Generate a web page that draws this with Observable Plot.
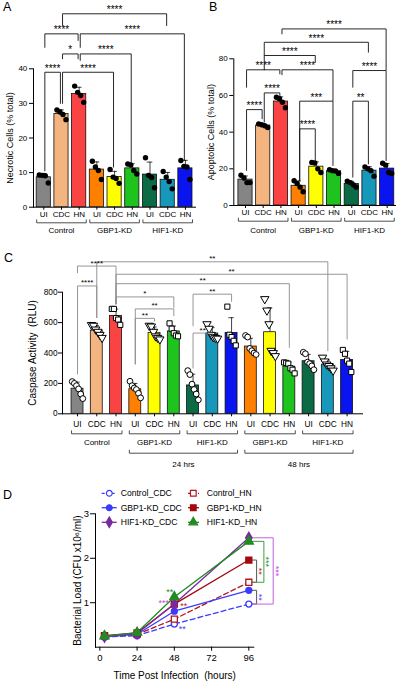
<!DOCTYPE html>
<html><head><meta charset="utf-8">
<script src="https://cdn.jsdelivr.net/npm/d3@7"></script>
<script src="https://cdn.jsdelivr.net/npm/@observablehq/plot@0.6"></script>
<style>
body{margin:0;background:#fff;font-family:"Liberation Sans",Arial,sans-serif;}
#fig{position:relative;width:400px;height:683px;overflow:hidden;background:#fff;}
.pane{position:absolute;}
.letter{position:absolute;font-size:12.5px;line-height:1;color:#000;}
</style></head><body><div id="fig">
<div class="letter" style="left:3px;top:1px">A</div>
<div class="letter" style="left:209px;top:1px">B</div>
<div class="letter" style="left:4px;top:252px">C</div>
<div class="letter" style="left:3px;top:489px">D</div>
</div>
<script>
const FONT = "'Liberation Sans', Arial, Helvetica, sans-serif";

// ---------- shared categories ----------
const treatments = ["UI", "CDC", "HN"];
const cellGroups = ["Control", "GBP1-KD", "HIF1-KD"];
const cellColors = ["#858585", "#f3b47f", "#fa4343", "#ff8000", "#ffff00", "#1ec31e", "#0b6b45", "#1797b9", "#0a14ee"];

// ---------- Panel A: necrotic cells (% total) ----------
const necroticPoints = [
  [9.3, 9.2, 9.1, 7.0],
  [28.1, 27.5, 26.8, 25.3],
  [35.0, 33.2, 32.3, 30.3],
  [13.3, 11.6, 10.6, 8.0],
  [10.9, 8.7, 8.3, 6.9],
  [12.5, 12.2, 10.6, 9.6],
  [14.3, 9.2, 8.6, 5.6],
  [10.3, 8.7, 7.4, 5.3],
  [13.5, 11.8, 11.6, 8.0]
];
const necTicks = [0, 10, 20, 30, 40];
const necFrom  = [1, 0, 2, 1, 2, 0, 1];
const necTo    = [7, 2, 8, 2, 5, 1, 4];
const necLevel = [55.9, 50.1, 50.1, 44.3, 44.3, 39, 39];
const necDropL = [52.5, 46.2, 46.2, 42.9, 42.4, 10.5, 30];
const necDropR = [52.5, 48.2, 13.5, 42.9, 12.5, 30, 11.6];
const necStars = ["****", "****", "****", "*", "****", "****", "****"];

// ---------- Panel B: apoptotic cells (% total) ----------
const apoptoticPoints = [
  [16.5, 15.0, 12.5, 12.5],
  [44.5, 44.0, 43.5, 42.5],
  [59.0, 58.2, 56.3, 53.3],
  [13.5, 12.0, 10.0, 7.5],
  [23.5, 23.2, 20.0, 18.0],
  [19.5, 19.0, 18.8, 17.5],
  [13.3, 12.5, 11.3, 10.0],
  [21.0, 20.0, 19.0, 16.0],
  [23.0, 22.0, 18.0, 17.5]
];
const apoTicks = [0, 20, 40, 60, 80];
const apoFrom  = [2, 1, 1, 0, 2, 1, 0, 3, 3, 6, 6];
const apoTo    = [8, 7, 4, 2, 5, 2, 1, 5, 4, 7, 8];
const apoLevel = [96.3, 89, 81.8, 74, 74, 61.4, 52.3, 56.9, 41.8, 56.9, 73.6];
const apoDropL = [93.6, 81.8, 74, 64.5, 71.3, 45.4, 19.1, 13.6, 13.6, 15.5, 64.5];
const apoDropR = [74, 83.6, 78, 71.8, 57.2, 59.1, 47.3, 21.8, 24.5, 22.7, 24.5];
const apoStars = ["****", "****", "****", "****", "****", "****", "****", "***", "****", "**", "****"];

// ---------- Panel C: caspase activity (RLU) ----------
const caspGroups = ["Control", "GBP1-KD", "HIF1-KD", "GBP1-KD", "HIF1-KD"];
const caspTimes = ["24 hrs", "48 hrs"];
const caspColors = ["#858585", "#f3b47f", "#fa4343", "#ff8000", "#ffff00", "#1ec31e", "#0b6b45", "#1797b9", "#0a14ee",
                    "#ff8000", "#ffff00", "#1ec31e", "#0b6b45", "#1797b9", "#0a14ee"];
const caspPoints = [
  [212, 200, 185, 164, 130, 100],
  [585, 580, 555, 540, 520, 500],
  [690, 690, 630, 620, 585],
  [214, 185, 170, 160, 135, 105],
  [580, 575, 540, 510, 500, 490],
  [595, 560, 530, 515, 510],
  [284, 258, 195, 160, 130, 92],
  [590, 560, 520, 505, 500, 495],
  [705, 520, 505, 480, 450],
  [515, 505, 430, 415, 400, 390],
  [755, 680, 590, 415, 400, 380],
  [338, 335, 330, 300, 290, 266],
  [405, 395, 340, 330, 315, 290],
  [370, 345, 325, 315, 300, 285],
  [420, 395, 350, 330, 275]
];
const caspTicks = [0, 200, 400, 600, 800];
const caspSymbols = ["circle", "triangle", "square"];
const caspFrom  = [1, 0, 2, 2, 0, 2, 3, 3, 6, 6];
const caspTo    = [13, 2, 14, 11, 1, 5, 5, 4, 8, 7];
const caspLevel = [1000, 972, 918, 856, 841, 769, 690, 628, 787, 531];
const caspDropL = [633, 928, 723, 723, 262, 723, 328, 328, 579, 300];
const caspDropR = [415, 723, 492, 437, 633, 700, 645, 610, 740, 520];
const caspStars = ["**", "****", "**", "**", "****", "*", "**", "**", "**", "**"];

// ---------- Panel D: bacterial load ----------
const dTimes = [3, 24, 48, 96];
const dTicks = [0, 24, 48, 72, 96];
const dYTicks = [1, 2, 3];
const dSeries = ["Control_CDC", "Control_HN", "GBP1-KD_CDC", "GBP1-KD_HN", "HIF1-KD_CDC", "HIF1-KD_HN"];
const dValues = [
  [0.23, 0.26, 0.52, 0.97],
  [0.25, 0.29, 0.63, 1.46],
  [0.23, 0.29, 0.81, 1.28],
  [0.26, 0.32, 0.97, 1.96],
  [0.24, 0.31, 0.97, 2.46],
  [0.25, 0.33, 1.13, 2.38]
];
const dColors = ["#3c3cff", "#b3161b", "#3c3cff", "#a3090f", "#7a2aa0", "#228b22"];
const dSymbols = ["circle", "square", "circle", "square", "diamond", "triangle"];
const dFilled = [false, false, true, true, true, true];
const dDashed = [true, true, false, false, false, false];
// comparisons at 96 h
const dCmpUpper = ["GBP1-KD_CDC", "GBP1-KD_HN", "HIF1-KD_HN", "HIF1-KD_CDC"];
const dCmpLower = ["Control_CDC", "Control_HN", "Control_HN", "Control_CDC"];
const dCmpX = [101, 101, 105.7, 111.7];
const dCmpLine = ["#555555", "#555555", "#3d9f3d", "#c65fe0"];
const dCmpStars = ["**", "**", "***", "***"];
const dCmpStarColor = ["#3c3cff", "#c02020", "#1f8a1f", "#c040e0"];
// annotations near 48 h
const dNoteT = [45.1, 41.2, 54.1, 53.1];
const dNoteV = [1.28, 1.04, 0.96, 0.45];
const dNoteText = ["**", "***", "**", "**"];
const dNoteColor = ["#1f8a1f", "#c040e0", "#c02020", "#3c3cff"];

// ---------- helpers ----------
function bracketPath(from, to, level, dropL, dropR, nudge) {
  return from.flatMap((f, j) => {
    const a = f + nudge, b = to[j] - nudge;
    return [{x: a, y: dropL[j], j}, {x: a, y: level[j], j}, {x: b, y: level[j], j}, {x: b, y: dropR[j], j}];
  });
}

function barPanel(cfg) {
  const u = (cfg.yDomain[1] - cfg.yDomain[0]) / (cfg.H - cfg.mt - cfg.mb);
  const bars = cfg.points.map((p, i) => ({i, mean: d3.mean(p), sd: d3.deviation(p), fill: cfg.colors[i]}));
  const dots = cfg.points.flatMap((p, i) => p.map((v, k) => ({x: i + (k - (p.length - 1) / 2) * cfg.jitter, y: v, t: i % 3})));
  const c = cfg.cmp;
  const brk = bracketPath(c.from, c.to, c.level, c.dropL, c.dropR, cfg.nudge);
  const brkLab = c.from.map((f, j) => ({x: (f + c.to[j]) / 2, y: c.level[j], s: c.stars[j]}));
  const hw = cfg.barW / 2;
  const tierLines = [], tierText = [];
  cfg.tiers.forEach((tier, ti) => {
    tier.ranges.forEach(([s, e], g) => {
      const a = s - hw, b = e + hw;
      const y0 = -tier.line * u, y1 = -(tier.line - 3) * u;
      const id = ti * 100 + g;
      tierLines.push({x: a, y: y1, id}, {x: a, y: y0, id}, {x: b, y: y0, id}, {x: b, y: y1, id});
      tierText.push({x: (s + e) / 2, y: -tier.text * u, label: tier.labels[g]});
    });
  });
  const dotMarks = cfg.open
    ? [0, 1, 2].map(t => Plot.dot(dots.filter(d => d.t === t), {
        x: "x", y: "y", symbol: cfg.symbols[t], rotate: t === 1 ? 180 : 0,
        r: t === 1 ? 3.1 : 2.9, fill: "#fff", stroke: "#000", strokeWidth: 1}))
    : [Plot.dot(dots, {x: "x", y: "y", r: 2.7, fill: "#000"})];
  return Plot.plot({
    width: cfg.W, height: cfg.H,
    marginTop: cfg.mt, marginBottom: cfg.mb, marginLeft: cfg.ml, marginRight: cfg.mr,
    style: {fontFamily: FONT, fontSize: cfg.tickFont + "px", color: "#000", background: "transparent"},
    x: {domain: cfg.xDomain, ticks: d3.range(cfg.points.length), tickFormat: i => treatments[i % 3],
        tickSize: 3, tickPadding: cfg.xPad, line: true, label: null},
    y: {domain: cfg.yDomain, ticks: cfg.yTicks, tickFormat: d3.format("d"), tickSize: 4, tickPadding: cfg.yPad, line: true, label: null},
    color: {type: "identity"},
    marks: [
      Plot.rect(bars, {x1: d => d.i - hw, x2: d => d.i + hw, y1: 0, y2: "mean", fill: "fill", stroke: "#111", strokeWidth: 0.8}),
      Plot.ruleX(bars, {x: "i", y1: "mean", y2: d => d.mean + d.sd, stroke: "#111", strokeWidth: 0.8}),
      Plot.ruleY(bars, {y: d => d.mean + d.sd, x1: d => d.i - cfg.cap, x2: d => d.i + cfg.cap, stroke: "#111", strokeWidth: 0.8}),
      ...dotMarks,
      Plot.line(brk, {x: "x", y: "y", z: "j", stroke: cfg.brColor, strokeWidth: cfg.brWidth}),
      Plot.text(brkLab, {x: "x", y: "y", text: "s", fontSize: cfg.starFont, lineAnchor: "bottom", dy: -0.5, fill: "#000"}),
      Plot.line(tierLines, {x: "x", y: "y", z: "id", stroke: "#222", strokeWidth: 0.8}),
      Plot.text(tierText, {x: "x", y: "y", text: "label", fontSize: cfg.groupFont, fill: "#000"}),
      Plot.text([cfg.yLabel], {text: d => d, frameAnchor: "left", textAnchor: "middle", lineAnchor: "middle",
        rotate: -90, dx: -cfg.labelDx, fontSize: cfg.labelFont, fill: "#000"})
    ]
  });
}

function place(node, left, top) {
  const div = document.createElement("div");
  div.className = "pane";
  div.style.left = left + "px";
  div.style.top = top + "px";
  div.appendChild(node);
  document.getElementById("fig").appendChild(div);
}

// ---------- Panel A ----------
place(barPanel({
  points: necroticPoints, colors: cellColors, W: 200, H: 240, mt: 68.3, mb: 33.3, ml: 33, mr: 5,
  xDomain: [-0.58, 8.57], yDomain: [0, 40], yTicks: necTicks, barW: 0.8, jitter: 0.17, cap: 0.16,
  cmp: {from: necFrom, to: necTo, level: necLevel, dropL: necDropL, dropR: necDropR, stars: necStars},
  nudge: 0.06, brColor: "#111", brWidth: 0.9,
  tiers: [{labels: cellGroups, ranges: cellGroups.map((g, k) => [3 * k, 3 * k + 2]), line: 15.6, text: 23.5}],
  yLabel: "Necrotic Cells (% total)", labelDx: 23.5, labelFont: 9, tickFont: 8, groupFont: 8, starFont: 10,
  xPad: 1, yPad: 2.2, open: false
}), 0, 0);

// ---------- Panel B ----------
place(barPanel({
  points: apoptoticPoints, colors: cellColors, W: 200, H: 240, mt: 58.3, mb: 35, ml: 33.3, mr: 5,
  xDomain: [-0.66, 8.47], yDomain: [0, 80], yTicks: apoTicks, barW: 0.8, jitter: 0.17, cap: 0.16,
  cmp: {from: apoFrom, to: apoTo, level: apoLevel, dropL: apoDropL, dropR: apoDropR, stars: apoStars},
  nudge: 0.06, brColor: "#111", brWidth: 0.9,
  tiers: [{labels: cellGroups, ranges: cellGroups.map((g, k) => [3 * k, 3 * k + 2]), line: 15.7, text: 25}],
  yLabel: "Apoptotic Cells (% total)", labelDx: 22.3, labelFont: 9, tickFont: 8, groupFont: 8, starFont: 10,
  xPad: 1, yPad: 2.2, open: false
}), 200, 0);

// ---------- Panel C ----------
place(barPanel({
  points: caspPoints, colors: caspColors, W: 400, H: 230, mt: 51.7, mb: 56.7, ml: 62, mr: 38,
  xDomain: [-0.78, 14.8], yDomain: [0, 800], yTicks: caspTicks, barW: 0.62, jitter: 0.11, cap: 0.14,
  cmp: {from: caspFrom, to: caspTo, level: caspLevel, dropL: caspDropL, dropR: caspDropR, stars: caspStars},
  nudge: 0, brColor: "#8a8a8a", brWidth: 0.9,
  tiers: [
    {labels: caspGroups, ranges: caspGroups.map((g, k) => [3 * k, 3 * k + 2]), line: 20, text: 29},
    {labels: caspTimes, ranges: caspTimes.map((g, k) => [3 + 6 * k, 8 + 6 * k]), line: 39.4, text: 51}
  ],
  yLabel: "Caspase Activity\u00a0 (RLU)", labelDx: 29.5, labelFont: 10, tickFont: 8.3, groupFont: 8, starFont: 8,
  xPad: 4.5, yPad: 1, open: true, symbols: caspSymbols
}), 0, 240);

// ---------- Panel D ----------
(function () {
  const long = dSeries.map((s, j) => dTimes.map((t, k) => ({t, v: dValues[j][k]})));
  const last = s => dValues[dSeries.indexOf(s)][dTimes.length - 1];
  const tEnd = dTimes[dTimes.length - 1];
  const cmpPath = dCmpUpper.flatMap((s, j) => {
    const top = last(s), bot = last(dCmpLower[j]);
    return [{x: tEnd + 2.2, y: top, j}, {x: dCmpX[j], y: top, j}, {x: dCmpX[j], y: bot, j}, {x: tEnd + 2.2, y: bot, j}];
  });
  const cmpStars = dCmpUpper.map((s, j) => ({x: dCmpX[j] + 1.6, y: (last(s) + last(dCmpLower[j])) / 2, s: dCmpStars[j], c: dCmpStarColor[j]}));
  const notes = dNoteT.map((t, j) => ({x: t, y: dNoteV[j], s: dNoteText[j], c: dNoteColor[j]}));
  const plot = Plot.plot({
    width: 400, height: 213, marginTop: 43.3, marginBottom: 36.3, marginLeft: 95, marginRight: 146.7,
    style: {fontFamily: FONT, fontSize: "9.5px", color: "#000", background: "transparent"},
    x: {domain: [-2.8, 99.2], ticks: dTicks, tickFormat: d3.format("d"), tickSize: 4, tickPadding: 3, line: true, label: null},
    y: {domain: [0, 3], ticks: dYTicks, tickFormat: d3.format("d"), tickSize: 5, tickPadding: 1.5, line: true, label: null},
    color: {type: "identity"},
    marks: [
      ...dSeries.map((s, j) => Plot.line(long[j], {x: "t", y: "v", stroke: dColors[j], strokeWidth: 1.3,
        strokeDasharray: dDashed[j] ? "5,3" : null})),
      ...dCmpUpper.map((s, j) => Plot.line(cmpPath.filter(d => d.j === j), {x: "x", y: "y", stroke: dCmpLine[j], strokeWidth: 1})),
      ...dSeries.map((s, j) => Plot.dot(long[j], {x: "t", y: "v", symbol: dSymbols[j],
        r: dSymbols[j] === "circle" ? 3 : 3.4,
        fill: dFilled[j] ? dColors[j] : "#fff", stroke: dColors[j], strokeWidth: 1.3})),
      Plot.text(cmpStars, {x: "x", y: "y", text: "s", fill: "c", rotate: 90, fontSize: 9}),
      Plot.text(notes, {x: "x", y: "y", text: "s", fill: "c", fontSize: 9, dy: 2}),
      Plot.text(["Time Post Infection\u00a0 (hours)"], {text: d => d, frameAnchor: "bottom", textAnchor: "middle",
        lineAnchor: "middle", dy: 28.3, fontSize: 10, fill: "#000"}),
      Plot.text(["Bacterial Load (CFU x10\u2076/ml)"], {text: d => d, frameAnchor: "left", textAnchor: "middle",
        lineAnchor: "middle", rotate: -90, dx: -18, fontSize: 10, fill: "#000"})
    ]
  });
  place(plot, 0, 470);

  // legend
  const leg = d3.create("svg").attr("width", 400).attr("height", 56)
    .style("position", "absolute").style("left", "0px").style("top", "480px");
  const colX = [{l1: 101.7, l2: 116.7, m: 109.3, t: 120.7}, {l1: 188, l2: 199, m: 193.3, t: 206.7}];
  const rowY = [13.3, 27.7, 42.3];
  const symMap = {circle: d3.symbolCircle, square: d3.symbolSquare, diamond: d3.symbolDiamond, triangle: d3.symbolTriangle};
  dSeries.forEach((s, j) => {
    const c = colX[j % 2], y = rowY[Math.floor(j / 2)];
    leg.append("line").attr("x1", c.l1).attr("x2", c.l2).attr("y1", y).attr("y2", y)
      .attr("stroke", dColors[j]).attr("stroke-width", 1.3).attr("stroke-dasharray", dDashed[j] ? "3,2" : null);
    const r = dSymbols[j] === "circle" ? 2.9 : 3.2;
    leg.append("path").attr("d", d3.symbol(symMap[dSymbols[j]], Math.PI * r * r)())
      .attr("transform", `translate(${c.m},${y})`)
      .attr("fill", dFilled[j] ? dColors[j] : "#fff").attr("stroke", dColors[j]).attr("stroke-width", 1.2);
    leg.append("text").attr("x", c.t).attr("y", y).attr("dy", "0.35em")
      .attr("font-family", FONT).attr("font-size", 8.6).attr("fill", "#000").text(s);
  });
  document.getElementById("fig").appendChild(leg.node());
})();
</script></body></html>
